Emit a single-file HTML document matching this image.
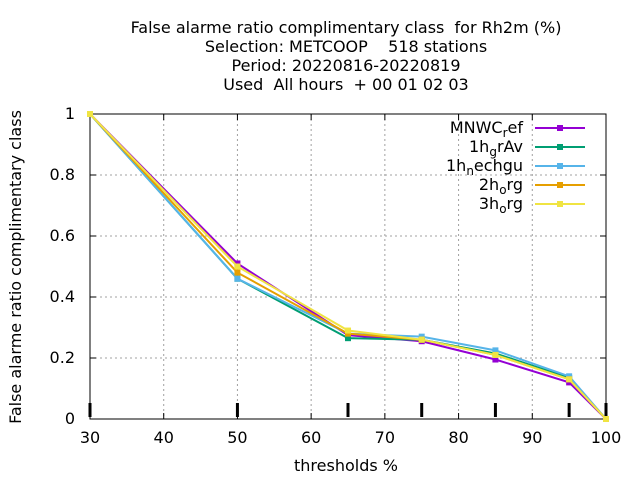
<!DOCTYPE html>
<html><head><meta charset="utf-8"><style>
body{margin:0;background:#fff}
text{font-family:"DejaVu Sans","Liberation Sans",sans-serif;font-size:16px;fill:#000;white-space:pre}
</style></head><body>
<svg id="c" width="640" height="480" xmlns="http://www.w3.org/2000/svg">
<g>
<text x="346" y="33" text-anchor="middle">False alarme ratio complimentary class  for Rh2m (%)</text>
<text x="346" y="52" text-anchor="middle">Selection: METCOOP    518 stations</text>
<text x="346" y="71" text-anchor="middle">Period: 20220816-20220819</text>
<text x="346" y="90" text-anchor="middle">Used  All hours  + 00 01 02 03</text>
</g>
<g id="grid"></g>
<g id="axes"></g>
<g id="series"></g>
<g id="legend"></g>
<text x="346" y="471" text-anchor="middle">thresholds %</text>
<text transform="translate(21,267) rotate(-90)" text-anchor="middle">False alarme ratio complimentary class</text>
</svg>
<script>
const thresholds=[30,50,65,75,85,95,100];
const seriesNames=["MNWC_ref","1h_grAv","1h_nechgu","2h_org","3h_org"];
const mnwcRef=[1,0.51,0.275,0.255,0.195,0.12,0];
const grAv=[1,0.46,0.265,0.26,0.215,0.135,0];
const nechgu=[1,0.46,0.28,0.27,0.225,0.14,0];
const org2=[1,0.48,0.28,0.26,0.21,0.13,0];
const org3=[1,0.50,0.29,0.26,0.21,0.13,0];
const xTicks=[30,40,50,60,70,80,90,100];
const yTicks=[0,0.2,0.4,0.6,0.8,1];
const yTickLabels=["0","0.2","0.4","0.6","0.8","1"];
const colors=["#9400d3","#009e73","#56b4e9","#e69f00","#f0e442"];
const L=90,R=606,T=114,B=419;
const sx=v=>L+(v-30)/70*(R-L), sy=v=>B-v*(B-T);
const NS="http://www.w3.org/2000/svg";
function mk(tag,attrs,parent){const e=document.createElementNS(NS,tag);for(const k in attrs)e.setAttribute(k,attrs[k]);parent.appendChild(e);return e;}
const grid=document.getElementById('grid'),axes=document.getElementById('axes'),ser=document.getElementById('series'),leg=document.getElementById('legend');
xTicks.forEach(v=>{
 if(v>30&&v<100){const g=mk('line',{x1:sx(v),x2:sx(v),y1:T,y2:B,stroke:'#a0a0a0','stroke-dasharray':'2,3'},grid);
 
 }
 mk('line',{x1:sx(v),x2:sx(v),y1:B,y2:B-6,stroke:'#000'},axes);
 mk('line',{x1:sx(v),x2:sx(v),y1:T,y2:T+6,stroke:'#000'},axes);
 const t=mk('text',{x:sx(v),y:B+24,'text-anchor':'middle'},axes);t.textContent=v;
 
 
});
yTicks.forEach((v,i)=>{
 if(v>0&&v<1){const g=mk('line',{x1:L,x2:R,y1:sy(v),y2:sy(v),stroke:'#a0a0a0','stroke-dasharray':'2,3'},grid);
 
 }
 mk('line',{x1:L,x2:L+6,y1:sy(v),y2:sy(v),stroke:'#000'},axes);
 mk('line',{x1:R,x2:R-6,y1:sy(v),y2:sy(v),stroke:'#000'},axes);
 const t=mk('text',{x:L-15,y:sy(v)+5,'text-anchor':'end'},axes);t.textContent=yTickLabels[i];
 
 
});
thresholds.forEach(v=>{const m=mk('line',{x1:sx(v),x2:sx(v),y1:B-16,y2:B-2,stroke:'#000','stroke-width':3},axes);
 
 });
const box=mk('rect',{x:L,y:T,width:R-L,height:B-T,fill:'none',stroke:'#000'},axes);


const labels=[["MNWC","r","ef"],["1h","g","rAv"],["1h","n","echgu"],["2h","o","rg"],["3h","o","rg"]];
[mnwcRef,grAv,nechgu,org2,org3].forEach((d,si)=>{
 const pts=thresholds.map((x,i)=>sx(x)+','+sy(d[i])).join(' ');
 const pl=mk('polyline',{points:pts,fill:'none',stroke:colors[si],'stroke-width':2},ser);
 
 
 thresholds.forEach((x,i)=>{const p=mk('rect',{x:sx(x)-3,y:sy(d[i])-3,width:6,height:6,fill:colors[si]},ser);
  
  });
 const ly=128+si*19;
 const lt=mk('text',{x:523,y:ly+5,'text-anchor':'end'},leg);
 lt.innerHTML=labels[si][0]+'<tspan dy="4" font-size="12">'+labels[si][1]+'</tspan><tspan dy="-4">'+labels[si][2]+'</tspan>';
 
 
 const ll=mk('line',{x1:535,x2:585,y1:ly,y2:ly,stroke:colors[si],'stroke-width':2},leg);
 
 
 mk('rect',{x:557,y:ly-3,width:6,height:6,fill:colors[si]},leg);
});
</script>
</body></html>
